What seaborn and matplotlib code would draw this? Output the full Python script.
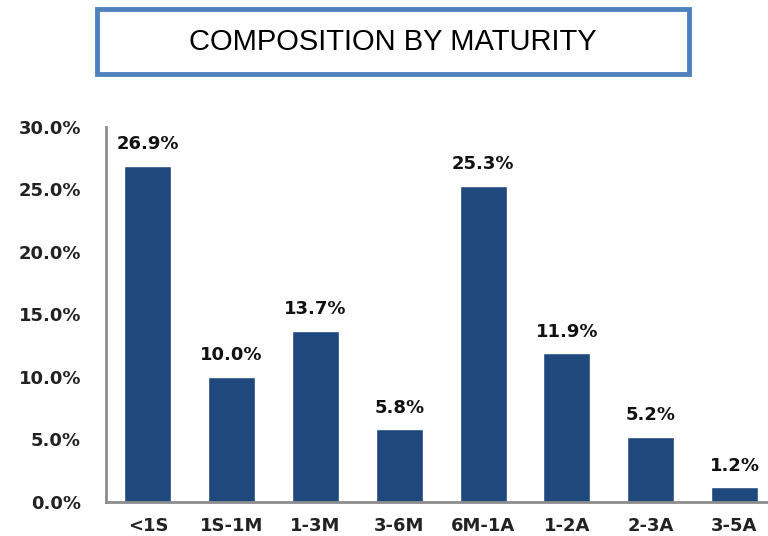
import matplotlib
matplotlib.use("Agg")
import matplotlib.pyplot as plt
import seaborn as sns
import pandas as pd
from matplotlib.patches import Rectangle
from matplotlib.ticker import PercentFormatter

# composicion por vencimiento
categories = ['<1S', '1S-1M', '1-3M', '3-6M', '6M-1A', '1-2A', '2-3A', '3-5A']
shares = [26.9, 10.0, 13.7, 5.8, 25.3, 11.9, 5.2, 1.2]
y_ticks = [0.0, 5.0, 10.0, 15.0, 20.0, 25.0, 30.0]

df = pd.DataFrame({'plazo': categories, 'pct': shares})

sns.set_theme(style='white')
plt.rcParams['font.family'] = ['DejaVu Sans']

fig = plt.figure(figsize=(7.68, 5.36), dpi=100)
ax = fig.add_axes([0.138, 0.0634, 0.862, 0.70])

sns.barplot(data=df, x='plazo', y='pct', color='#1f497d', saturation=1,
            width=0.56, ax=ax)

ax.set_xlim(-0.5, 7.4)
ax.set_ylim(0, 30)
ax.set_yticks(y_ticks)
ax.yaxis.set_major_formatter(PercentFormatter(decimals=1))
ax.set_xlabel('')
ax.set_ylabel('')

for s in ['top', 'right']:
    ax.spines[s].set_visible(False)
for s in ['left', 'bottom']:
    ax.spines[s].set_color('#8c8c8c')
    ax.spines[s].set_linewidth(2)

ax.tick_params(axis='both', length=0, labelsize=13, labelcolor='#222222')
ax.tick_params(axis='x', pad=11)
ax.tick_params(axis='y', pad=18)
for lab in ax.get_xticklabels() + ax.get_yticklabels():
    lab.set_fontweight('bold')

for p, v in zip(ax.patches, shares):
    ax.annotate(f'{v:.1f}%', (p.get_x() + p.get_width() / 2, p.get_height()),
                xytext=(0, 9), textcoords='offset points', ha='center',
                va='bottom', fontsize=13, fontweight='bold', color='#111111')

# titulo dentro de un recuadro
fig.patches.append(Rectangle((0.126, 0.862), 0.771, 0.121, transform=fig.transFigure,
                             fill=False, edgecolor='#4f81bd', linewidth=3.5))
fig.text(0.511, 0.922, 'COMPOSITION BY MATURITY', ha='center', va='center',
         fontsize=21, color='black', family=['Liberation Sans'])

fig.savefig('out.png', dpi=100)
